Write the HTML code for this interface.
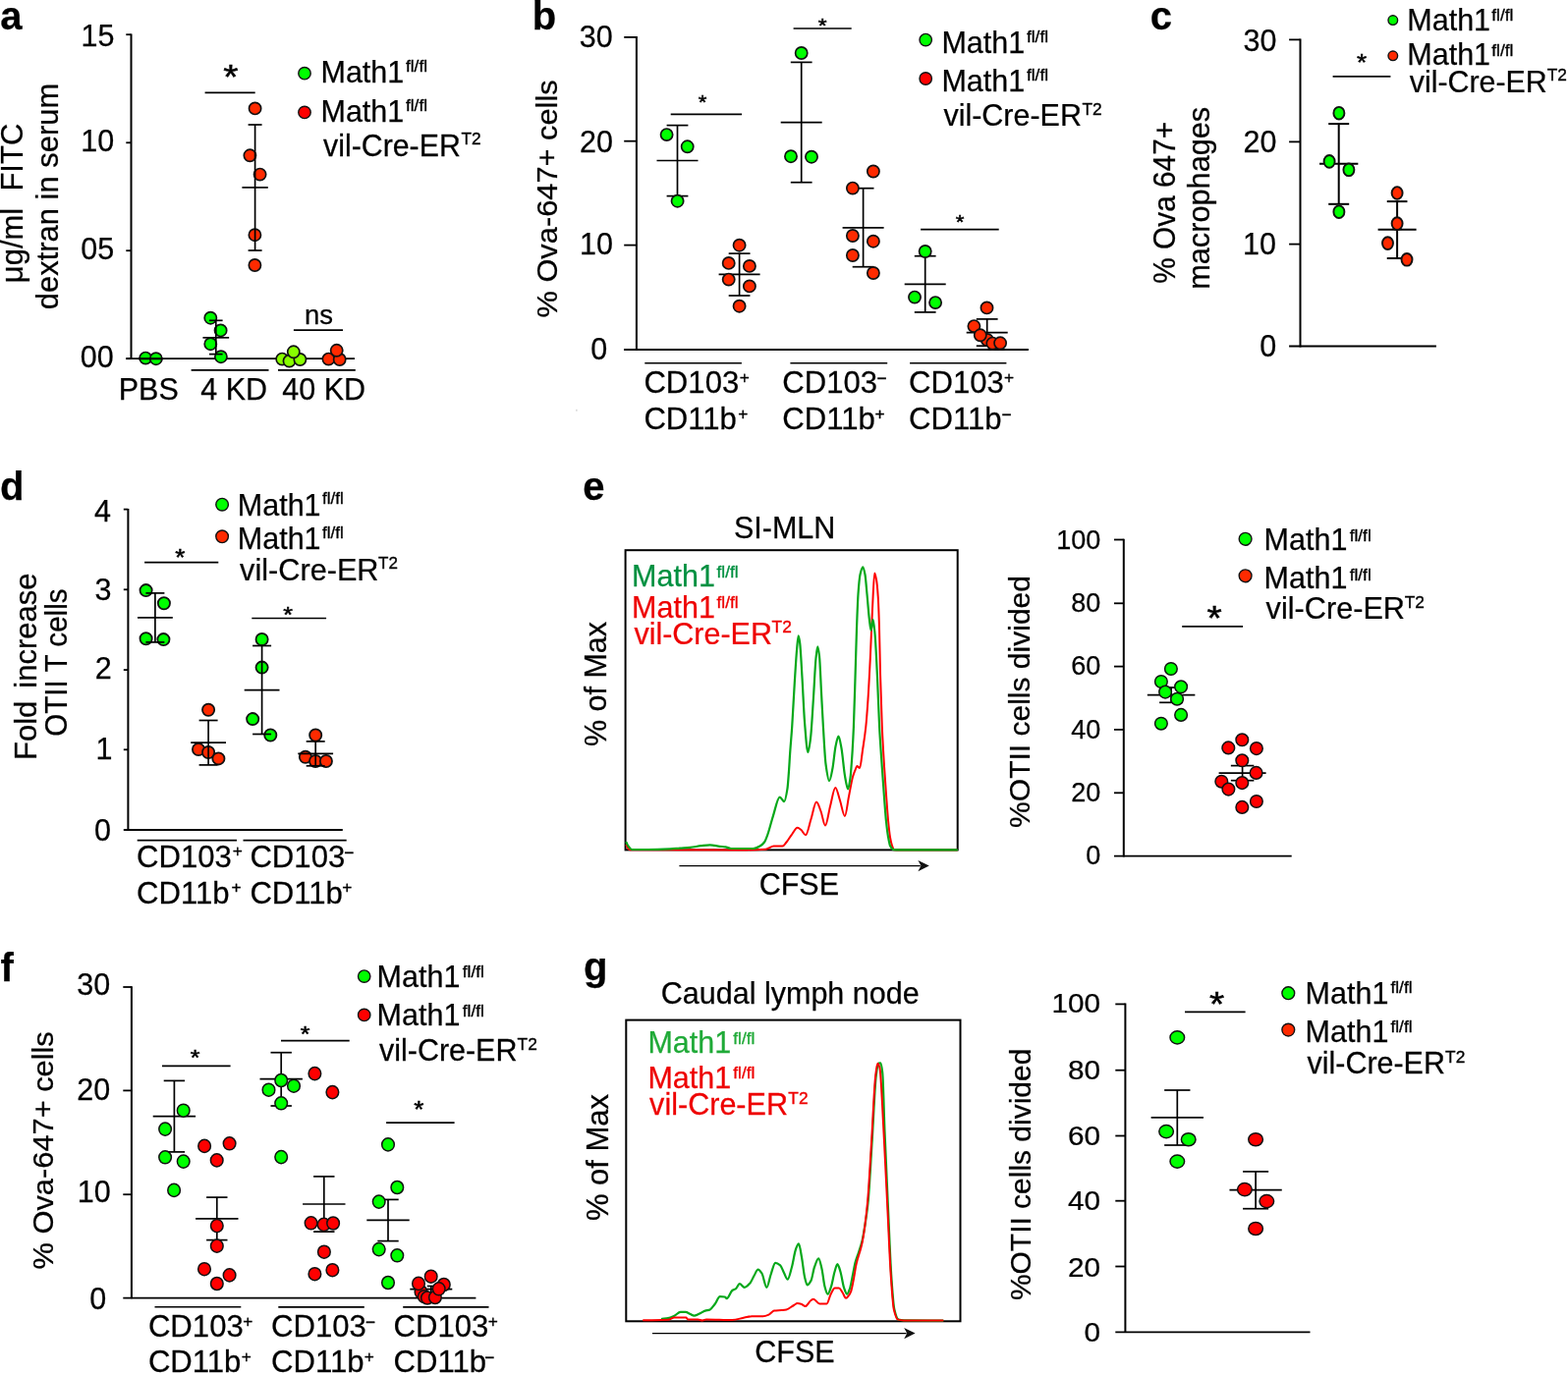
<!DOCTYPE html>
<html><head><meta charset="utf-8"><title>Figure</title>
<style>html,body{margin:0;padding:0;background:#fff;} svg{display:block;} text{font-family:"Liberation Sans",Arial,sans-serif;}</style>
</head><body>
<svg width="1596" height="1399" viewBox="0 0 1596 1399">
<rect width="1596" height="1399" fill="#fff"/>
<text transform="translate(0.24,29.80)" font-size="40.00" font-weight="bold" fill="#000" stroke="#000" stroke-width="0.25" xml:space="preserve">a</text>
<line x1="133.50" y1="34.40" x2="133.50" y2="366.00" stroke="#000" stroke-width="2.0"/>
<line x1="128.30" y1="35.20" x2="133.50" y2="35.20" stroke="#000" stroke-width="1.8"/>
<line x1="128.30" y1="145.30" x2="133.50" y2="145.30" stroke="#000" stroke-width="1.8"/>
<line x1="128.30" y1="255.20" x2="133.50" y2="255.20" stroke="#000" stroke-width="1.8"/>
<line x1="128.30" y1="365.20" x2="361.00" y2="365.20" stroke="#000" stroke-width="1.8"/>
<text transform="translate(82.56,47.04)" font-size="30.50" fill="#000" stroke="#000" stroke-width="0.25" xml:space="preserve">15</text>
<text transform="translate(82.27,153.69)" font-size="30.50" fill="#000" stroke="#000" stroke-width="0.25" xml:space="preserve">10</text>
<text transform="translate(82.37,263.79)" font-size="30.50" fill="#000" stroke="#000" stroke-width="0.25" xml:space="preserve">05</text>
<text transform="translate(81.87,373.99)" font-size="30.50" fill="#000" stroke="#000" stroke-width="0.25" xml:space="preserve">00</text>
<text transform="translate(23.20,288.22) rotate(-90)" font-size="31.00" fill="#000" stroke="#000" stroke-width="0.25" xml:space="preserve">μg/ml  FITC</text>
<text transform="translate(59.00,315.20) rotate(-90) scale(1.0144,1)" font-size="30.50" fill="#000" stroke="#000" stroke-width="0.25" xml:space="preserve">dextran in serum</text>
<circle cx="148.20" cy="364.60" r="6.1" fill="#00ff00" stroke="#111" stroke-width="1.7"/>
<circle cx="158.80" cy="365.20" r="6.1" fill="#00ff00" stroke="#111" stroke-width="1.7"/>
<line x1="141.00" y1="365.20" x2="166.00" y2="365.20" stroke="#000" stroke-width="2.2"/>
<circle cx="214.30" cy="323.70" r="6.1" fill="#00ff00" stroke="#111" stroke-width="1.7"/>
<circle cx="224.60" cy="336.40" r="6.1" fill="#00ff00" stroke="#111" stroke-width="1.7"/>
<circle cx="214.30" cy="350.20" r="6.1" fill="#00ff00" stroke="#111" stroke-width="1.7"/>
<circle cx="224.90" cy="363.20" r="6.1" fill="#00ff00" stroke="#111" stroke-width="1.7"/>
<line x1="219.80" y1="326.30" x2="219.80" y2="360.60" stroke="#000" stroke-width="1.7"/>
<line x1="213.00" y1="326.30" x2="226.60" y2="326.30" stroke="#000" stroke-width="1.7"/>
<line x1="213.00" y1="360.60" x2="226.60" y2="360.60" stroke="#000" stroke-width="1.7"/>
<line x1="206.45" y1="343.80" x2="233.15" y2="343.80" stroke="#000" stroke-width="1.7"/>
<circle cx="259.60" cy="110.40" r="6.1" fill="#ff2a00" stroke="#111" stroke-width="1.7"/>
<circle cx="254.40" cy="158.30" r="6.1" fill="#ff2a00" stroke="#111" stroke-width="1.7"/>
<circle cx="264.60" cy="177.60" r="6.1" fill="#ff2a00" stroke="#111" stroke-width="1.7"/>
<circle cx="259.40" cy="239.20" r="6.1" fill="#ff2a00" stroke="#111" stroke-width="1.7"/>
<circle cx="259.40" cy="270.00" r="6.1" fill="#ff2a00" stroke="#111" stroke-width="1.7"/>
<line x1="259.60" y1="127.00" x2="259.60" y2="255.00" stroke="#000" stroke-width="1.7"/>
<line x1="252.60" y1="127.00" x2="266.60" y2="127.00" stroke="#000" stroke-width="1.7"/>
<line x1="252.60" y1="255.00" x2="266.60" y2="255.00" stroke="#000" stroke-width="1.7"/>
<line x1="246.40" y1="190.90" x2="272.80" y2="190.90" stroke="#000" stroke-width="1.7"/>
<circle cx="287.20" cy="365.60" r="6.1" fill="#88ff00" stroke="#111" stroke-width="1.7"/>
<circle cx="294.50" cy="367.60" r="6.1" fill="#88ff00" stroke="#111" stroke-width="1.7"/>
<circle cx="305.40" cy="366.00" r="6.1" fill="#88ff00" stroke="#111" stroke-width="1.7"/>
<circle cx="298.80" cy="358.30" r="6.1" fill="#88ff00" stroke="#111" stroke-width="1.7"/>
<circle cx="334.40" cy="365.60" r="6.1" fill="#ff2a00" stroke="#111" stroke-width="1.7"/>
<circle cx="345.70" cy="366.00" r="6.1" fill="#ff2a00" stroke="#111" stroke-width="1.7"/>
<circle cx="342.70" cy="356.80" r="6.1" fill="#ff2a00" stroke="#111" stroke-width="1.7"/>
<line x1="128.30" y1="365.20" x2="133.50" y2="365.20" stroke="#000" stroke-width="1.8"/>
<text transform="translate(227.29,89.80) scale(1.1200,1)" font-size="34.92" fill="#000" stroke="#000" stroke-width="0.5" xml:space="preserve">*</text>
<line x1="208.60" y1="94.30" x2="259.70" y2="94.30" stroke="#000" stroke-width="1.7"/>
<text transform="translate(310.07,329.66)" font-size="27.50" fill="#000" stroke="#000" stroke-width="0.25" xml:space="preserve">ns</text>
<line x1="298.90" y1="336.10" x2="349.00" y2="336.10" stroke="#000" stroke-width="1.7"/>
<line x1="194.60" y1="376.90" x2="273.50" y2="376.90" stroke="#000" stroke-width="1.6"/>
<line x1="283.00" y1="376.90" x2="361.80" y2="376.90" stroke="#000" stroke-width="1.6"/>
<text transform="translate(120.70,406.80)" font-size="30.50" fill="#000" stroke="#000" stroke-width="0.25" xml:space="preserve">PBS</text>
<text transform="translate(204.20,406.80)" font-size="30.50" fill="#000" stroke="#000" stroke-width="0.25" xml:space="preserve">4 KD</text>
<text transform="translate(287.30,406.80)" font-size="30.50" fill="#000" stroke="#000" stroke-width="0.25" xml:space="preserve">40 KD</text>
<circle cx="310.00" cy="74.70" r="6.2" fill="#00ff00" stroke="#111" stroke-width="1.4"/>
<circle cx="310.00" cy="114.40" r="6.2" fill="#ff0000" stroke="#111" stroke-width="1.4"/>
<text transform="translate(326.50,84.40)" font-size="30.50" fill="#000" stroke="#000" stroke-width="0.25" xml:space="preserve">Math1</text>
<text transform="translate(412.96,73.34)" font-size="17.30" fill="#000" stroke="#000" stroke-width="0.35" xml:space="preserve">fl/fl</text>
<text transform="translate(326.50,124.10)" font-size="30.50" fill="#000" stroke="#000" stroke-width="0.25" xml:space="preserve">Math1</text>
<text transform="translate(412.96,113.04)" font-size="17.30" fill="#000" stroke="#000" stroke-width="0.35" xml:space="preserve">fl/fl</text>
<text transform="translate(329.01,158.60) scale(0.9947,1)" font-size="30.50" fill="#000" stroke="#000" stroke-width="0.25" xml:space="preserve">vil-Cre-ER</text>
<text transform="translate(469.52,147.38)" font-size="17.30" fill="#000" stroke="#000" stroke-width="0.35" xml:space="preserve">T2</text>
<text transform="translate(541.66,29.80)" font-size="40.00" font-weight="bold" fill="#000" stroke="#000" stroke-width="0.25" xml:space="preserve">b</text>
<line x1="647.90" y1="37.00" x2="647.90" y2="356.80" stroke="#000" stroke-width="2.0"/>
<line x1="635.20" y1="37.90" x2="647.90" y2="37.90" stroke="#000" stroke-width="1.8"/>
<line x1="635.20" y1="143.70" x2="647.90" y2="143.70" stroke="#000" stroke-width="1.8"/>
<line x1="635.20" y1="249.60" x2="647.90" y2="249.60" stroke="#000" stroke-width="1.8"/>
<line x1="635.00" y1="356.00" x2="1046.90" y2="356.00" stroke="#000" stroke-width="1.8"/>
<text transform="translate(589.87,47.64)" font-size="30.50" fill="#000" stroke="#000" stroke-width="0.25" xml:space="preserve">30</text>
<text transform="translate(589.97,155.09)" font-size="30.50" fill="#000" stroke="#000" stroke-width="0.25" xml:space="preserve">20</text>
<text transform="translate(589.97,258.59)" font-size="30.50" fill="#000" stroke="#000" stroke-width="0.25" xml:space="preserve">10</text>
<text transform="translate(601.33,365.79)" font-size="30.50" fill="#000" stroke="#000" stroke-width="0.25" xml:space="preserve">0</text>
<text transform="translate(567.00,323.51) rotate(-90) scale(1.0266,1)" font-size="30.00" fill="#000" stroke="#000" stroke-width="0.25" xml:space="preserve">% Ova-647+ cells</text>
<line x1="689.50" y1="127.60" x2="689.50" y2="199.60" stroke="#000" stroke-width="1.7"/>
<line x1="678.60" y1="127.60" x2="700.40" y2="127.60" stroke="#000" stroke-width="1.7"/>
<line x1="678.60" y1="199.60" x2="700.40" y2="199.60" stroke="#000" stroke-width="1.7"/>
<line x1="668.50" y1="163.50" x2="710.50" y2="163.50" stroke="#000" stroke-width="1.7"/>
<circle cx="678.60" cy="137.10" r="6.1" fill="#00ff00" stroke="#111" stroke-width="1.7"/>
<circle cx="699.70" cy="149.30" r="6.1" fill="#00ff00" stroke="#111" stroke-width="1.7"/>
<circle cx="689.60" cy="204.70" r="6.1" fill="#00ff00" stroke="#111" stroke-width="1.7"/>
<line x1="752.60" y1="258.10" x2="752.60" y2="301.00" stroke="#000" stroke-width="1.7"/>
<line x1="741.70" y1="258.10" x2="763.50" y2="258.10" stroke="#000" stroke-width="1.7"/>
<line x1="741.70" y1="301.00" x2="763.50" y2="301.00" stroke="#000" stroke-width="1.7"/>
<line x1="731.60" y1="279.40" x2="773.60" y2="279.40" stroke="#000" stroke-width="1.7"/>
<circle cx="752.60" cy="249.70" r="6.1" fill="#ff2a00" stroke="#111" stroke-width="1.7"/>
<circle cx="741.70" cy="267.90" r="6.1" fill="#ff2a00" stroke="#111" stroke-width="1.7"/>
<circle cx="762.90" cy="270.90" r="6.1" fill="#ff2a00" stroke="#111" stroke-width="1.7"/>
<circle cx="741.70" cy="284.60" r="6.1" fill="#ff2a00" stroke="#111" stroke-width="1.7"/>
<circle cx="762.90" cy="291.40" r="6.1" fill="#ff2a00" stroke="#111" stroke-width="1.7"/>
<circle cx="752.60" cy="311.70" r="6.1" fill="#ff2a00" stroke="#111" stroke-width="1.7"/>
<line x1="815.70" y1="63.40" x2="815.70" y2="185.70" stroke="#000" stroke-width="1.7"/>
<line x1="804.80" y1="63.40" x2="826.60" y2="63.40" stroke="#000" stroke-width="1.7"/>
<line x1="804.80" y1="185.70" x2="826.60" y2="185.70" stroke="#000" stroke-width="1.7"/>
<line x1="794.70" y1="124.60" x2="836.70" y2="124.60" stroke="#000" stroke-width="1.7"/>
<circle cx="815.70" cy="54.00" r="6.1" fill="#00ff00" stroke="#111" stroke-width="1.7"/>
<circle cx="805.00" cy="159.20" r="6.1" fill="#00ff00" stroke="#111" stroke-width="1.7"/>
<circle cx="826.00" cy="159.70" r="6.1" fill="#00ff00" stroke="#111" stroke-width="1.7"/>
<line x1="878.60" y1="191.70" x2="878.60" y2="271.70" stroke="#000" stroke-width="1.7"/>
<line x1="867.70" y1="191.70" x2="889.50" y2="191.70" stroke="#000" stroke-width="1.7"/>
<line x1="867.70" y1="271.70" x2="889.50" y2="271.70" stroke="#000" stroke-width="1.7"/>
<line x1="857.60" y1="231.90" x2="899.60" y2="231.90" stroke="#000" stroke-width="1.7"/>
<circle cx="888.90" cy="174.50" r="6.1" fill="#ff2a00" stroke="#111" stroke-width="1.7"/>
<circle cx="867.90" cy="191.60" r="6.1" fill="#ff2a00" stroke="#111" stroke-width="1.7"/>
<circle cx="867.90" cy="240.00" r="6.1" fill="#ff2a00" stroke="#111" stroke-width="1.7"/>
<circle cx="888.90" cy="245.70" r="6.1" fill="#ff2a00" stroke="#111" stroke-width="1.7"/>
<circle cx="867.90" cy="260.00" r="6.1" fill="#ff2a00" stroke="#111" stroke-width="1.7"/>
<circle cx="888.90" cy="278.00" r="6.1" fill="#ff2a00" stroke="#111" stroke-width="1.7"/>
<line x1="941.70" y1="260.70" x2="941.70" y2="317.90" stroke="#000" stroke-width="1.7"/>
<line x1="930.80" y1="260.70" x2="952.60" y2="260.70" stroke="#000" stroke-width="1.7"/>
<line x1="930.80" y1="317.90" x2="952.60" y2="317.90" stroke="#000" stroke-width="1.7"/>
<line x1="920.70" y1="289.30" x2="962.70" y2="289.30" stroke="#000" stroke-width="1.7"/>
<circle cx="941.70" cy="256.00" r="6.1" fill="#00ff00" stroke="#111" stroke-width="1.7"/>
<circle cx="931.00" cy="302.60" r="6.1" fill="#00ff00" stroke="#111" stroke-width="1.7"/>
<circle cx="952.10" cy="308.10" r="6.1" fill="#00ff00" stroke="#111" stroke-width="1.7"/>
<line x1="1004.70" y1="324.90" x2="1004.70" y2="352.20" stroke="#000" stroke-width="1.7"/>
<line x1="993.80" y1="324.90" x2="1015.60" y2="324.90" stroke="#000" stroke-width="1.7"/>
<line x1="993.80" y1="352.20" x2="1015.60" y2="352.20" stroke="#000" stroke-width="1.7"/>
<line x1="983.70" y1="338.60" x2="1025.70" y2="338.60" stroke="#000" stroke-width="1.7"/>
<circle cx="1004.50" cy="313.40" r="6.1" fill="#ff2a00" stroke="#111" stroke-width="1.7"/>
<circle cx="1004.80" cy="346.00" r="6.1" fill="#ff2a00" stroke="#111" stroke-width="1.7"/>
<circle cx="991.40" cy="332.10" r="6.1" fill="#ff2a00" stroke="#111" stroke-width="1.7"/>
<circle cx="997.80" cy="341.30" r="6.1" fill="#ff2a00" stroke="#111" stroke-width="1.7"/>
<circle cx="1010.30" cy="349.60" r="6.1" fill="#ff2a00" stroke="#111" stroke-width="1.7"/>
<circle cx="1018.10" cy="349.30" r="6.1" fill="#ff2a00" stroke="#111" stroke-width="1.7"/>
<line x1="682.70" y1="116.40" x2="755.10" y2="116.40" stroke="#000" stroke-width="1.7"/>
<text transform="translate(710.67,111.49) scale(1.1200,1)" font-size="19.88" fill="#000" stroke="#000" stroke-width="0.5" xml:space="preserve">*</text>
<line x1="807.60" y1="29.00" x2="866.70" y2="29.00" stroke="#000" stroke-width="1.7"/>
<text transform="translate(832.86,32.84) scale(1.1200,1)" font-size="20.37" fill="#000" stroke="#000" stroke-width="0.5" xml:space="preserve">*</text>
<line x1="937.10" y1="233.60" x2="1016.70" y2="233.60" stroke="#000" stroke-width="1.7"/>
<text transform="translate(972.77,232.99) scale(1.1200,1)" font-size="19.88" fill="#000" stroke="#000" stroke-width="0.5" xml:space="preserve">*</text>
<line x1="656.30" y1="369.80" x2="754.90" y2="369.80" stroke="#000" stroke-width="1.6"/>
<line x1="804.40" y1="369.80" x2="903.20" y2="369.80" stroke="#000" stroke-width="1.6"/>
<line x1="926.10" y1="369.80" x2="1024.40" y2="369.80" stroke="#000" stroke-width="1.6"/>
<text transform="translate(655.41,399.60) scale(1.0200,1)" font-size="30.50" fill="#000" stroke="#000" stroke-width="0.25" xml:space="preserve">CD103</text>
<text transform="translate(752.85,389.58)" font-size="17.30" fill="#000" stroke="#000" stroke-width="0.35" xml:space="preserve">+</text>
<text transform="translate(655.41,436.80) scale(1.0200,1)" font-size="30.50" fill="#000" stroke="#000" stroke-width="0.25" xml:space="preserve">CD11b</text>
<text transform="translate(751.15,426.78)" font-size="17.30" fill="#000" stroke="#000" stroke-width="0.35" xml:space="preserve">+</text>
<text transform="translate(796.31,399.60) scale(1.0200,1)" font-size="30.50" fill="#000" stroke="#000" stroke-width="0.25" xml:space="preserve">CD103</text>
<text transform="translate(892.55,390.55)" font-size="17.30" fill="#000" stroke="#000" stroke-width="0.35" xml:space="preserve">−</text>
<text transform="translate(796.31,436.80) scale(1.0200,1)" font-size="30.50" fill="#000" stroke="#000" stroke-width="0.25" xml:space="preserve">CD11b</text>
<text transform="translate(890.55,426.78)" font-size="17.30" fill="#000" stroke="#000" stroke-width="0.35" xml:space="preserve">+</text>
<text transform="translate(925.11,399.60) scale(1.0200,1)" font-size="30.50" fill="#000" stroke="#000" stroke-width="0.25" xml:space="preserve">CD103</text>
<text transform="translate(1021.95,389.58)" font-size="17.30" fill="#000" stroke="#000" stroke-width="0.35" xml:space="preserve">+</text>
<text transform="translate(925.11,436.60) scale(1.0200,1)" font-size="30.50" fill="#000" stroke="#000" stroke-width="0.25" xml:space="preserve">CD11b</text>
<text transform="translate(1019.45,427.55)" font-size="17.30" fill="#000" stroke="#000" stroke-width="0.35" xml:space="preserve">−</text>
<circle cx="942.20" cy="40.60" r="6.2" fill="#00ff00" stroke="#111" stroke-width="1.4"/>
<circle cx="942.20" cy="80.00" r="6.2" fill="#ff0000" stroke="#111" stroke-width="1.4"/>
<text transform="translate(958.40,54.10)" font-size="30.50" fill="#000" stroke="#000" stroke-width="0.25" xml:space="preserve">Math1</text>
<text transform="translate(1044.96,42.94)" font-size="17.30" fill="#000" stroke="#000" stroke-width="0.35" xml:space="preserve">fl/fl</text>
<text transform="translate(958.40,93.40)" font-size="30.50" fill="#000" stroke="#000" stroke-width="0.25" xml:space="preserve">Math1</text>
<text transform="translate(1044.96,82.24)" font-size="17.30" fill="#000" stroke="#000" stroke-width="0.35" xml:space="preserve">fl/fl</text>
<text transform="translate(960.41,128.00) scale(0.9997,1)" font-size="30.50" fill="#000" stroke="#000" stroke-width="0.25" xml:space="preserve">vil-Cre-ER</text>
<text transform="translate(1101.42,116.98)" font-size="17.30" fill="#000" stroke="#000" stroke-width="0.35" xml:space="preserve">T2</text>
<text transform="translate(1170.74,30.00)" font-size="40.00" font-weight="bold" fill="#000" stroke="#000" stroke-width="0.25" xml:space="preserve">c</text>
<line x1="1323.50" y1="39.50" x2="1323.50" y2="353.40" stroke="#000" stroke-width="2.0"/>
<line x1="1312.10" y1="40.40" x2="1323.50" y2="40.40" stroke="#000" stroke-width="1.8"/>
<line x1="1312.10" y1="144.40" x2="1323.50" y2="144.40" stroke="#000" stroke-width="1.8"/>
<line x1="1312.10" y1="248.60" x2="1323.50" y2="248.60" stroke="#000" stroke-width="1.8"/>
<line x1="1312.10" y1="352.50" x2="1461.90" y2="352.50" stroke="#000" stroke-width="1.8"/>
<text transform="translate(1265.57,52.29)" font-size="30.50" fill="#000" stroke="#000" stroke-width="0.25" xml:space="preserve">30</text>
<text transform="translate(1265.57,154.79)" font-size="30.50" fill="#000" stroke="#000" stroke-width="0.25" xml:space="preserve">20</text>
<text transform="translate(1265.07,258.69)" font-size="30.50" fill="#000" stroke="#000" stroke-width="0.25" xml:space="preserve">10</text>
<text transform="translate(1282.13,362.89)" font-size="30.50" fill="#000" stroke="#000" stroke-width="0.25" xml:space="preserve">0</text>
<text transform="translate(1195.60,288.67) rotate(-90) scale(0.9771,1)" font-size="30.50" fill="#000" stroke="#000" stroke-width="0.25" xml:space="preserve">% Ova 647+</text>
<text transform="translate(1230.70,294.83) rotate(-90) scale(1.0072,1)" font-size="30.50" fill="#000" stroke="#000" stroke-width="0.25" xml:space="preserve">macrophages</text>
<line x1="1362.70" y1="126.10" x2="1362.70" y2="207.80" stroke="#000" stroke-width="2.0"/>
<line x1="1352.20" y1="126.10" x2="1373.20" y2="126.10" stroke="#000" stroke-width="2.0"/>
<line x1="1352.20" y1="207.80" x2="1373.20" y2="207.80" stroke="#000" stroke-width="2.0"/>
<line x1="1343.05" y1="166.80" x2="1382.35" y2="166.80" stroke="#000" stroke-width="2.0"/>
<line x1="1422.10" y1="205.10" x2="1422.10" y2="263.00" stroke="#000" stroke-width="2.0"/>
<line x1="1411.75" y1="205.10" x2="1432.45" y2="205.10" stroke="#000" stroke-width="2.0"/>
<line x1="1411.75" y1="263.00" x2="1432.45" y2="263.00" stroke="#000" stroke-width="2.0"/>
<line x1="1402.60" y1="233.70" x2="1441.60" y2="233.70" stroke="#000" stroke-width="2.0"/>
<ellipse cx="1362.90" cy="115.20" rx="5.5" ry="6.35" fill="#00ff00" stroke="#111" stroke-width="1.9"/>
<ellipse cx="1353.10" cy="164.40" rx="5.5" ry="6.35" fill="#00ff00" stroke="#111" stroke-width="1.9"/>
<ellipse cx="1372.90" cy="172.80" rx="5.5" ry="6.35" fill="#00ff00" stroke="#111" stroke-width="1.9"/>
<ellipse cx="1362.90" cy="215.70" rx="5.5" ry="6.35" fill="#00ff00" stroke="#111" stroke-width="1.9"/>
<ellipse cx="1422.10" cy="196.50" rx="5.5" ry="6.35" fill="#ff2a00" stroke="#111" stroke-width="1.9"/>
<ellipse cx="1422.10" cy="227.60" rx="5.5" ry="6.35" fill="#ff2a00" stroke="#111" stroke-width="1.9"/>
<ellipse cx="1412.50" cy="247.60" rx="5.5" ry="6.35" fill="#ff2a00" stroke="#111" stroke-width="1.9"/>
<ellipse cx="1432.00" cy="264.30" rx="5.5" ry="6.35" fill="#ff2a00" stroke="#111" stroke-width="1.9"/>
<line x1="1356.60" y1="77.90" x2="1415.40" y2="77.90" stroke="#000" stroke-width="1.7"/>
<text transform="translate(1381.03,72.43) scale(1.1200,1)" font-size="23.28" fill="#000" stroke="#000" stroke-width="0.5" xml:space="preserve">*</text>
<circle cx="1417.80" cy="20.60" r="4.8" fill="#00ff00" stroke="#111" stroke-width="1.4"/>
<circle cx="1417.80" cy="56.80" r="4.8" fill="#ff2a00" stroke="#111" stroke-width="1.4"/>
<text transform="translate(1432.30,30.70)" font-size="30.50" fill="#000" stroke="#000" stroke-width="0.25" xml:space="preserve">Math1</text>
<text transform="translate(1518.26,21.14)" font-size="17.30" fill="#000" stroke="#000" stroke-width="0.35" xml:space="preserve">fl/fl</text>
<text transform="translate(1432.30,66.30)" font-size="30.50" fill="#000" stroke="#000" stroke-width="0.25" xml:space="preserve">Math1</text>
<text transform="translate(1518.26,56.94)" font-size="17.30" fill="#000" stroke="#000" stroke-width="0.35" xml:space="preserve">fl/fl</text>
<text transform="translate(1434.81,93.60) scale(0.9954,1)" font-size="30.50" fill="#000" stroke="#000" stroke-width="0.25" xml:space="preserve">vil-Cre-ER</text>
<text transform="translate(1574.72,82.48)" font-size="17.30" fill="#000" stroke="#000" stroke-width="0.35" xml:space="preserve">T2</text>
<text transform="translate(0.06,509.00)" font-size="40.00" font-weight="bold" fill="#000" stroke="#000" stroke-width="0.25" xml:space="preserve">d</text>
<line x1="130.40" y1="518.00" x2="130.40" y2="845.80" stroke="#000" stroke-width="2.0"/>
<line x1="125.80" y1="518.60" x2="130.40" y2="518.60" stroke="#000" stroke-width="1.8"/>
<line x1="125.80" y1="600.30" x2="130.40" y2="600.30" stroke="#000" stroke-width="1.8"/>
<line x1="125.80" y1="682.10" x2="130.40" y2="682.10" stroke="#000" stroke-width="1.8"/>
<line x1="125.80" y1="763.30" x2="130.40" y2="763.30" stroke="#000" stroke-width="1.8"/>
<line x1="125.80" y1="845.00" x2="348.80" y2="845.00" stroke="#000" stroke-width="1.8"/>
<text transform="translate(96.03,531.19)" font-size="30.50" fill="#000" stroke="#000" stroke-width="0.25" xml:space="preserve">4</text>
<text transform="translate(96.38,611.19)" font-size="30.50" fill="#000" stroke="#000" stroke-width="0.25" xml:space="preserve">3</text>
<text transform="translate(96.67,691.34)" font-size="30.50" fill="#000" stroke="#000" stroke-width="0.25" xml:space="preserve">2</text>
<text transform="translate(97.54,773.39)" font-size="30.50" fill="#000" stroke="#000" stroke-width="0.25" xml:space="preserve">1</text>
<text transform="translate(96.03,856.09)" font-size="30.50" fill="#000" stroke="#000" stroke-width="0.25" xml:space="preserve">0</text>
<text transform="translate(36.90,773.94) rotate(-90)" font-size="31.00" fill="#000" stroke="#000" stroke-width="0.25" xml:space="preserve">Fold</text>
<text transform="translate(36.90,700.68) rotate(-90)" font-size="31.00" fill="#000" stroke="#000" stroke-width="0.25" xml:space="preserve">increase</text>
<text transform="translate(67.80,749.79) rotate(-90) scale(0.9720,1)" font-size="30.50" fill="#000" stroke="#000" stroke-width="0.25" xml:space="preserve">OTII T cells</text>
<circle cx="148.60" cy="601.10" r="6.1" fill="#00ff00" stroke="#111" stroke-width="1.8"/>
<circle cx="166.90" cy="614.30" r="6.1" fill="#00ff00" stroke="#111" stroke-width="1.8"/>
<circle cx="148.60" cy="650.30" r="6.1" fill="#00ff00" stroke="#111" stroke-width="1.8"/>
<circle cx="166.40" cy="651.10" r="6.1" fill="#00ff00" stroke="#111" stroke-width="1.8"/>
<line x1="157.90" y1="603.90" x2="157.90" y2="653.90" stroke="#000" stroke-width="1.7"/>
<line x1="148.40" y1="603.90" x2="167.40" y2="603.90" stroke="#000" stroke-width="1.7"/>
<line x1="148.40" y1="653.90" x2="167.40" y2="653.90" stroke="#000" stroke-width="1.7"/>
<line x1="140.00" y1="628.90" x2="175.80" y2="628.90" stroke="#000" stroke-width="1.7"/>
<circle cx="212.10" cy="722.80" r="6.1" fill="#ff2a00" stroke="#111" stroke-width="1.8"/>
<circle cx="202.00" cy="763.00" r="6.1" fill="#ff2a00" stroke="#111" stroke-width="1.8"/>
<circle cx="212.10" cy="766.00" r="6.1" fill="#ff2a00" stroke="#111" stroke-width="1.8"/>
<circle cx="222.40" cy="772.40" r="6.1" fill="#ff2a00" stroke="#111" stroke-width="1.8"/>
<line x1="212.10" y1="733.50" x2="212.10" y2="778.90" stroke="#000" stroke-width="1.7"/>
<line x1="202.60" y1="733.50" x2="221.60" y2="733.50" stroke="#000" stroke-width="1.7"/>
<line x1="202.60" y1="778.90" x2="221.60" y2="778.90" stroke="#000" stroke-width="1.7"/>
<line x1="194.20" y1="756.10" x2="230.00" y2="756.10" stroke="#000" stroke-width="1.7"/>
<circle cx="266.60" cy="651.00" r="6.1" fill="#00ff00" stroke="#111" stroke-width="1.8"/>
<circle cx="266.60" cy="679.60" r="6.1" fill="#00ff00" stroke="#111" stroke-width="1.8"/>
<circle cx="257.20" cy="732.10" r="6.1" fill="#00ff00" stroke="#111" stroke-width="1.8"/>
<circle cx="275.30" cy="748.50" r="6.1" fill="#00ff00" stroke="#111" stroke-width="1.8"/>
<line x1="266.60" y1="657.50" x2="266.60" y2="747.50" stroke="#000" stroke-width="1.7"/>
<line x1="257.10" y1="657.50" x2="276.10" y2="657.50" stroke="#000" stroke-width="1.7"/>
<line x1="257.10" y1="747.50" x2="276.10" y2="747.50" stroke="#000" stroke-width="1.7"/>
<line x1="248.70" y1="702.70" x2="284.50" y2="702.70" stroke="#000" stroke-width="1.7"/>
<circle cx="321.20" cy="748.50" r="6.1" fill="#ff2a00" stroke="#111" stroke-width="1.8"/>
<circle cx="310.90" cy="770.70" r="6.1" fill="#ff2a00" stroke="#111" stroke-width="1.8"/>
<circle cx="321.10" cy="775.00" r="6.1" fill="#ff2a00" stroke="#111" stroke-width="1.8"/>
<circle cx="331.90" cy="775.00" r="6.1" fill="#ff2a00" stroke="#111" stroke-width="1.8"/>
<line x1="321.20" y1="754.90" x2="321.20" y2="779.80" stroke="#000" stroke-width="1.7"/>
<line x1="311.70" y1="754.90" x2="330.70" y2="754.90" stroke="#000" stroke-width="1.7"/>
<line x1="311.70" y1="779.80" x2="330.70" y2="779.80" stroke="#000" stroke-width="1.7"/>
<line x1="303.30" y1="767.40" x2="339.10" y2="767.40" stroke="#000" stroke-width="1.7"/>
<line x1="147.10" y1="572.60" x2="222.30" y2="572.60" stroke="#000" stroke-width="1.7"/>
<text transform="translate(178.13,576.23) scale(1.1200,1)" font-size="23.28" fill="#000" stroke="#000" stroke-width="0.5" xml:space="preserve">*</text>
<line x1="256.30" y1="629.50" x2="332.10" y2="629.50" stroke="#000" stroke-width="1.7"/>
<text transform="translate(288.24,633.13) scale(1.1200,1)" font-size="22.31" fill="#000" stroke="#000" stroke-width="0.5" xml:space="preserve">*</text>
<line x1="139.70" y1="855.60" x2="241.00" y2="855.60" stroke="#000" stroke-width="1.6"/>
<line x1="247.50" y1="855.60" x2="352.70" y2="855.60" stroke="#000" stroke-width="1.6"/>
<text transform="translate(139.01,882.50) scale(1.0200,1)" font-size="30.50" fill="#000" stroke="#000" stroke-width="0.25" xml:space="preserve">CD103</text>
<text transform="translate(236.75,872.28)" font-size="17.30" fill="#000" stroke="#000" stroke-width="0.35" xml:space="preserve">+</text>
<text transform="translate(139.01,919.70) scale(1.0200,1)" font-size="30.50" fill="#000" stroke="#000" stroke-width="0.25" xml:space="preserve">CD11b</text>
<text transform="translate(235.55,909.48)" font-size="17.30" fill="#000" stroke="#000" stroke-width="0.35" xml:space="preserve">+</text>
<text transform="translate(254.41,882.70) scale(1.0200,1)" font-size="30.50" fill="#000" stroke="#000" stroke-width="0.25" xml:space="preserve">CD103</text>
<text transform="translate(350.15,873.65)" font-size="17.30" fill="#000" stroke="#000" stroke-width="0.35" xml:space="preserve">−</text>
<text transform="translate(254.41,919.80) scale(1.0200,1)" font-size="30.50" fill="#000" stroke="#000" stroke-width="0.25" xml:space="preserve">CD11b</text>
<text transform="translate(348.15,909.38)" font-size="17.30" fill="#000" stroke="#000" stroke-width="0.35" xml:space="preserve">+</text>
<circle cx="226.10" cy="513.70" r="6.3" fill="#00ff00" stroke="#111" stroke-width="1.4"/>
<circle cx="226.10" cy="546.30" r="6.3" fill="#ff2a00" stroke="#111" stroke-width="1.4"/>
<text transform="translate(241.80,524.60)" font-size="30.50" fill="#000" stroke="#000" stroke-width="0.25" xml:space="preserve">Math1</text>
<text transform="translate(328.06,513.33)" font-size="17.00" fill="#000" stroke="#000" stroke-width="0.35" xml:space="preserve">fl/fl</text>
<text transform="translate(241.80,559.20)" font-size="30.50" fill="#000" stroke="#000" stroke-width="0.25" xml:space="preserve">Math1</text>
<text transform="translate(328.06,547.93)" font-size="17.00" fill="#000" stroke="#000" stroke-width="0.35" xml:space="preserve">fl/fl</text>
<text transform="translate(244.11,590.80) scale(1.0055,1)" font-size="30.50" fill="#000" stroke="#000" stroke-width="0.25" xml:space="preserve">vil-Cre-ER</text>
<text transform="translate(385.03,579.47)" font-size="17.00" fill="#000" stroke="#000" stroke-width="0.35" xml:space="preserve">T2</text>
<text transform="translate(593.34,509.30)" font-size="40.00" font-weight="bold" fill="#000" stroke="#000" stroke-width="0.25" xml:space="preserve">e</text>
<text transform="translate(746.93,548.40)" font-size="30.50" fill="#000" stroke="#000" stroke-width="0.25" xml:space="preserve">SI-MLN</text>
<rect x="636.6" y="560.2" width="338.1" height="305.2" fill="none" stroke="#000" stroke-width="2"/>
<path d="M637.60,860.50 C638.40,861.83 639.20,864.12 640.00,864.50 C641.00,864.97 642.00,865.30 643.00,865.30 C682.00,865.40 721.00,865.40 760.00,865.40 C766.43,865.40 772.87,865.18 779.30,864.70 C782.07,864.49 784.83,861.60 787.60,861.60 C790.57,861.60 793.53,861.60 796.50,861.60 C797.83,861.60 799.17,859.09 800.50,857.50 C802.17,855.52 803.83,852.51 805.50,850.30 C807.57,847.56 809.63,842.70 811.70,842.70 C812.97,842.70 814.23,844.00 815.50,845.00 C817.00,846.19 818.50,850.30 820.00,850.30 C821.83,850.30 823.67,839.63 825.50,834.00 C827.33,828.37 829.17,816.50 831.00,816.50 C832.50,816.50 834.00,822.16 835.50,826.00 C837.00,829.84 838.50,840.60 840.00,840.60 C841.67,840.60 843.33,827.24 845.00,821.00 C846.77,814.38 848.53,802.00 850.30,802.00 C851.87,802.00 853.43,810.31 855.00,815.00 C856.63,819.89 858.27,831.00 859.90,831.00 C861.27,831.00 862.63,817.75 864.00,811.00 C865.33,804.42 866.67,795.64 868.00,791.00 C868.83,788.10 869.67,786.17 870.50,784.10 C871.10,782.61 871.70,780.00 872.30,780.00 C873.23,780.00 874.17,782.00 875.10,782.00 C876.07,782.00 877.03,770.46 878.00,764.00 C879.10,756.65 880.20,750.37 881.30,740.00 C882.03,733.09 882.77,722.99 883.50,712.00 C884.27,700.52 885.03,685.54 885.80,670.00 C886.53,655.14 887.27,634.04 888.00,620.00 C888.73,605.96 889.47,583.60 890.20,583.60 C890.80,583.60 891.40,586.83 892.00,590.00 C892.57,593.00 893.13,598.86 893.70,607.20 C894.13,613.58 894.57,625.72 895.00,640.00 C895.33,650.98 895.67,673.45 896.00,685.80 C896.60,708.04 897.20,726.28 897.80,740.00 C898.53,756.76 899.27,768.21 900.00,780.00 C900.67,790.72 901.33,799.76 902.00,808.90 C902.67,818.04 903.33,828.09 904.00,835.00 C904.70,842.26 905.40,849.07 906.10,853.00 C906.73,856.56 907.37,859.32 908.00,861.00 C908.73,862.94 909.47,865.14 910.20,865.20 C912.13,865.35 914.07,865.40 916.00,865.40 C935.33,865.40 954.67,865.40 974.00,865.40" stroke="#ff0000" stroke-width="2.0" fill="none" stroke-linejoin="round" stroke-linecap="round"/>
<path d="M637.60,857.80 C638.23,859.03 638.87,860.65 639.50,861.50 C640.70,863.11 641.90,865.00 643.10,865.00 C648.73,865.00 654.37,865.00 660.00,865.00 C667.33,865.00 674.67,864.72 682.00,864.40 C685.33,864.26 688.67,863.85 692.00,863.60 C695.43,863.35 698.87,863.22 702.30,862.90 C706.07,862.55 709.83,861.65 713.60,861.20 C716.60,860.84 719.60,860.30 722.60,860.30 C726.00,860.30 729.40,861.43 732.80,861.80 C734.67,862.00 736.53,862.04 738.40,862.30 C740.27,862.56 742.13,864.00 744.00,864.00 C751.53,864.00 759.07,864.00 766.60,864.00 C769.00,864.00 771.40,862.62 773.80,861.30 C775.20,860.53 776.60,859.35 778.00,857.50 C779.10,856.05 780.20,852.87 781.30,849.90 C783.17,844.85 785.03,836.58 786.90,830.80 C789.17,823.78 791.43,811.60 793.70,811.60 C795.20,811.60 796.70,816.10 798.20,816.10 C799.27,816.10 800.33,810.05 801.40,803.40 C801.93,800.07 802.47,792.17 803.00,785.00 C803.37,780.07 803.73,772.92 804.10,767.60 C804.80,757.45 805.50,750.41 806.20,740.00 C807.07,727.11 807.93,708.70 808.80,695.00 C809.60,682.35 810.40,668.40 811.20,660.00 C811.70,654.75 812.20,647.30 812.70,647.30 C813.20,647.30 813.70,651.29 814.20,655.00 C814.97,660.69 815.73,677.37 816.50,690.00 C817.33,703.73 818.17,724.74 819.00,735.00 C820.13,748.95 821.27,766.00 822.40,766.00 C823.27,766.00 824.13,758.67 825.00,752.00 C826.00,744.30 827.00,724.96 828.00,710.00 C828.83,697.53 829.67,677.53 830.50,670.00 C831.10,664.58 831.70,658.30 832.30,658.30 C832.87,658.30 833.43,663.13 834.00,668.00 C834.67,673.73 835.33,692.69 836.00,705.00 C836.63,716.69 837.27,729.62 837.90,740.00 C838.77,754.21 839.63,771.61 840.50,778.00 C841.70,786.85 842.90,795.10 844.10,795.10 C845.23,795.10 846.37,787.76 847.50,782.00 C848.50,776.92 849.50,764.71 850.50,760.00 C851.50,755.29 852.50,749.60 853.50,749.60 C854.50,749.60 855.50,756.59 856.50,762.00 C857.67,768.31 858.83,783.49 860.00,790.00 C861.03,795.76 862.07,803.40 863.10,803.40 C863.90,803.40 864.70,797.59 865.50,792.00 C866.10,787.81 866.70,778.92 867.30,770.00 C867.83,762.07 868.37,752.50 868.90,740.00 C869.43,727.50 869.97,707.21 870.50,690.00 C871.00,673.87 871.50,653.73 872.00,640.00 C872.50,626.27 873.00,612.14 873.50,605.00 C874.17,595.49 874.83,587.97 875.50,585.00 C876.43,580.84 877.37,577.30 878.30,577.30 C879.03,577.30 879.77,581.17 880.50,585.00 C881.17,588.48 881.83,598.06 882.50,605.00 C883.27,612.98 884.03,623.79 884.80,630.00 C885.40,634.86 886.00,641.80 886.60,641.80 C887.27,641.80 887.93,630.80 888.60,630.80 C889.23,630.80 889.87,638.43 890.50,645.00 C891.33,653.64 892.17,672.85 893.00,690.00 C893.70,704.41 894.40,726.82 895.10,740.00 C896.00,756.94 896.90,768.29 897.80,781.40 C898.53,792.08 899.27,802.46 900.00,812.00 C900.67,820.68 901.33,830.17 902.00,836.50 C902.67,842.83 903.33,848.23 904.00,852.00 C904.70,855.95 905.40,859.99 906.10,861.30 C907.27,863.49 908.43,865.11 909.60,865.20 C911.40,865.34 913.20,865.40 915.00,865.40 C934.67,865.40 954.33,865.40 974.00,865.40" stroke="#06a81a" stroke-width="2.2" fill="none" stroke-linejoin="round" stroke-linecap="round"/>
<text transform="translate(643.10,597.00)" font-size="30.50" fill="#009040" stroke="#009040" stroke-width="0.25" xml:space="preserve">Math1</text>
<text transform="translate(729.56,587.54)" font-size="17.30" fill="#009040" stroke="#009040" stroke-width="0.35" xml:space="preserve">fl/fl</text>
<text transform="translate(643.10,628.90)" font-size="30.50" fill="#ee0000" stroke="#ee0000" stroke-width="0.25" xml:space="preserve">Math1</text>
<text transform="translate(729.56,618.94)" font-size="17.30" fill="#ee0000" stroke="#ee0000" stroke-width="0.35" xml:space="preserve">fl/fl</text>
<text transform="translate(645.41,655.90) scale(0.9997,1)" font-size="30.50" fill="#ee0000" stroke="#ee0000" stroke-width="0.25" xml:space="preserve">vil-Cre-ER</text>
<text transform="translate(785.62,644.28)" font-size="17.30" fill="#ee0000" stroke="#ee0000" stroke-width="0.35" xml:space="preserve">T2</text>
<text transform="translate(617.20,760.10) rotate(-90)" font-size="30.50" fill="#000" stroke="#000" stroke-width="0.25" xml:space="preserve">% of Max</text>
<line x1="691.40" y1="881.60" x2="936.80" y2="881.60" stroke="#000" stroke-width="1.3"/>
<path d="M945.80,881.60 L934.40,875.90 L937.40,881.60 L934.40,887.30 Z" fill="#111"/>
<text transform="translate(772.64,911.00)" font-size="30.50" fill="#000" stroke="#000" stroke-width="0.25" xml:space="preserve">CFSE</text>
<line x1="1143.80" y1="548.70" x2="1143.80" y2="872.40" stroke="#000" stroke-width="2.0"/>
<line x1="1134.00" y1="549.50" x2="1143.80" y2="549.50" stroke="#000" stroke-width="1.8"/>
<line x1="1134.00" y1="614.30" x2="1143.80" y2="614.30" stroke="#000" stroke-width="1.8"/>
<line x1="1134.00" y1="678.60" x2="1143.80" y2="678.60" stroke="#000" stroke-width="1.8"/>
<line x1="1134.00" y1="742.90" x2="1143.80" y2="742.90" stroke="#000" stroke-width="1.8"/>
<line x1="1134.00" y1="807.30" x2="1143.80" y2="807.30" stroke="#000" stroke-width="1.8"/>
<line x1="1134.00" y1="871.60" x2="1314.70" y2="871.60" stroke="#000" stroke-width="1.8"/>
<text transform="translate(1075.32,558.79)" font-size="27.00" fill="#000" stroke="#000" stroke-width="0.25" xml:space="preserve">100</text>
<text transform="translate(1090.33,622.89)" font-size="27.00" fill="#000" stroke="#000" stroke-width="0.25" xml:space="preserve">80</text>
<text transform="translate(1090.33,687.49)" font-size="27.00" fill="#000" stroke="#000" stroke-width="0.25" xml:space="preserve">60</text>
<text transform="translate(1090.33,751.89)" font-size="27.00" fill="#000" stroke="#000" stroke-width="0.25" xml:space="preserve">40</text>
<text transform="translate(1090.33,816.19)" font-size="27.00" fill="#000" stroke="#000" stroke-width="0.25" xml:space="preserve">20</text>
<text transform="translate(1105.34,880.49)" font-size="27.00" fill="#000" stroke="#000" stroke-width="0.25" xml:space="preserve">0</text>
<text transform="translate(1047.80,842.88) rotate(-90) scale(1.0006,1)" font-size="30.00" fill="#000" stroke="#000" stroke-width="0.25" xml:space="preserve">%OTII cells divided</text>
<line x1="1203.20" y1="637.90" x2="1265.10" y2="637.90" stroke="#000" stroke-width="1.7"/>
<text transform="translate(1228.59,640.70) scale(1.1200,1)" font-size="34.92" fill="#000" stroke="#000" stroke-width="0.5" xml:space="preserve">*</text>
<line x1="1192.10" y1="700.00" x2="1192.10" y2="715.30" stroke="#000" stroke-width="1.7"/>
<line x1="1180.10" y1="700.00" x2="1204.10" y2="700.00" stroke="#000" stroke-width="1.7"/>
<line x1="1180.10" y1="715.30" x2="1204.10" y2="715.30" stroke="#000" stroke-width="1.7"/>
<line x1="1167.85" y1="707.60" x2="1216.35" y2="707.60" stroke="#000" stroke-width="1.7"/>
<circle cx="1191.90" cy="681.00" r="6.3" fill="#00ff00" stroke="#111" stroke-width="1.5"/>
<circle cx="1181.90" cy="694.00" r="6.3" fill="#00ff00" stroke="#111" stroke-width="1.5"/>
<circle cx="1202.10" cy="699.30" r="6.3" fill="#00ff00" stroke="#111" stroke-width="1.5"/>
<circle cx="1186.10" cy="704.60" r="6.3" fill="#00ff00" stroke="#111" stroke-width="1.5"/>
<circle cx="1198.10" cy="711.70" r="6.3" fill="#00ff00" stroke="#111" stroke-width="1.5"/>
<circle cx="1202.10" cy="727.90" r="6.3" fill="#00ff00" stroke="#111" stroke-width="1.5"/>
<circle cx="1181.90" cy="736.70" r="6.3" fill="#00ff00" stroke="#111" stroke-width="1.5"/>
<line x1="1264.60" y1="779.60" x2="1264.60" y2="794.70" stroke="#000" stroke-width="1.7"/>
<line x1="1252.85" y1="779.60" x2="1276.35" y2="779.60" stroke="#000" stroke-width="1.7"/>
<line x1="1252.85" y1="794.70" x2="1276.35" y2="794.70" stroke="#000" stroke-width="1.7"/>
<line x1="1240.60" y1="787.10" x2="1288.60" y2="787.10" stroke="#000" stroke-width="1.7"/>
<circle cx="1264.30" cy="753.30" r="6.3" fill="#ff0000" stroke="#111" stroke-width="1.5"/>
<circle cx="1250.30" cy="761.40" r="6.3" fill="#ff0000" stroke="#111" stroke-width="1.5"/>
<circle cx="1278.90" cy="762.10" r="6.3" fill="#ff0000" stroke="#111" stroke-width="1.5"/>
<circle cx="1264.30" cy="774.30" r="6.3" fill="#ff0000" stroke="#111" stroke-width="1.5"/>
<circle cx="1278.60" cy="786.90" r="6.3" fill="#ff0000" stroke="#111" stroke-width="1.5"/>
<circle cx="1243.30" cy="795.70" r="6.3" fill="#ff0000" stroke="#111" stroke-width="1.5"/>
<circle cx="1264.30" cy="797.10" r="6.3" fill="#ff0000" stroke="#111" stroke-width="1.5"/>
<circle cx="1250.40" cy="803.60" r="6.3" fill="#ff0000" stroke="#111" stroke-width="1.5"/>
<circle cx="1278.90" cy="816.00" r="6.3" fill="#ff0000" stroke="#111" stroke-width="1.5"/>
<circle cx="1264.30" cy="821.90" r="6.3" fill="#ff0000" stroke="#111" stroke-width="1.5"/>
<circle cx="1267.60" cy="548.80" r="6.4" fill="#00ff00" stroke="#111" stroke-width="1.4"/>
<circle cx="1267.60" cy="586.30" r="6.4" fill="#ff2a00" stroke="#111" stroke-width="1.4"/>
<text transform="translate(1286.60,559.50)" font-size="30.50" fill="#000" stroke="#000" stroke-width="0.25" xml:space="preserve">Math1</text>
<text transform="translate(1373.66,550.94)" font-size="17.30" fill="#000" stroke="#000" stroke-width="0.35" xml:space="preserve">fl/fl</text>
<text transform="translate(1286.60,599.30)" font-size="30.50" fill="#000" stroke="#000" stroke-width="0.25" xml:space="preserve">Math1</text>
<text transform="translate(1373.66,590.74)" font-size="17.30" fill="#000" stroke="#000" stroke-width="0.35" xml:space="preserve">fl/fl</text>
<text transform="translate(1288.61,630.00) scale(1.0055,1)" font-size="30.50" fill="#000" stroke="#000" stroke-width="0.25" xml:space="preserve">vil-Cre-ER</text>
<text transform="translate(1429.72,619.08)" font-size="17.30" fill="#000" stroke="#000" stroke-width="0.35" xml:space="preserve">T2</text>
<text transform="translate(0.42,998.60)" font-size="40.00" font-weight="bold" fill="#000" stroke="#000" stroke-width="0.25" xml:space="preserve">f</text>
<line x1="133.90" y1="1004.20" x2="133.90" y2="1322.20" stroke="#000" stroke-width="2.0"/>
<line x1="125.30" y1="1005.00" x2="133.90" y2="1005.00" stroke="#000" stroke-width="1.8"/>
<line x1="125.30" y1="1110.40" x2="133.90" y2="1110.40" stroke="#000" stroke-width="1.8"/>
<line x1="125.30" y1="1216.20" x2="133.90" y2="1216.20" stroke="#000" stroke-width="1.8"/>
<line x1="125.30" y1="1321.60" x2="484.40" y2="1321.60" stroke="#000" stroke-width="1.8"/>
<text transform="translate(78.37,1012.79)" font-size="30.50" fill="#000" stroke="#000" stroke-width="0.25" xml:space="preserve">30</text>
<text transform="translate(78.37,1120.49)" font-size="30.50" fill="#000" stroke="#000" stroke-width="0.25" xml:space="preserve">20</text>
<text transform="translate(78.77,1223.99)" font-size="30.50" fill="#000" stroke="#000" stroke-width="0.25" xml:space="preserve">10</text>
<text transform="translate(91.13,1333.49)" font-size="30.50" fill="#000" stroke="#000" stroke-width="0.25" xml:space="preserve">0</text>
<text transform="translate(53.70,1292.41) rotate(-90) scale(1.0270,1)" font-size="30.00" fill="#000" stroke="#000" stroke-width="0.25" xml:space="preserve">% Ova-647+ cells</text>
<line x1="177.40" y1="1100.40" x2="177.40" y2="1172.90" stroke="#000" stroke-width="1.7"/>
<line x1="166.70" y1="1100.40" x2="188.10" y2="1100.40" stroke="#000" stroke-width="1.7"/>
<line x1="166.70" y1="1172.90" x2="188.10" y2="1172.90" stroke="#000" stroke-width="1.7"/>
<line x1="155.70" y1="1136.70" x2="199.10" y2="1136.70" stroke="#000" stroke-width="1.7"/>
<ellipse cx="186.70" cy="1130.70" rx="6.3" ry="6.55" fill="#00ff00" stroke="#111" stroke-width="1.5"/>
<ellipse cx="168.10" cy="1149.60" rx="6.3" ry="6.55" fill="#00ff00" stroke="#111" stroke-width="1.5"/>
<ellipse cx="168.10" cy="1178.30" rx="6.3" ry="6.55" fill="#00ff00" stroke="#111" stroke-width="1.5"/>
<ellipse cx="186.70" cy="1182.60" rx="6.3" ry="6.55" fill="#00ff00" stroke="#111" stroke-width="1.5"/>
<ellipse cx="177.10" cy="1211.90" rx="6.3" ry="6.55" fill="#00ff00" stroke="#111" stroke-width="1.5"/>
<line x1="220.80" y1="1219.10" x2="220.80" y2="1262.60" stroke="#000" stroke-width="1.7"/>
<line x1="210.10" y1="1219.10" x2="231.50" y2="1219.10" stroke="#000" stroke-width="1.7"/>
<line x1="210.10" y1="1262.60" x2="231.50" y2="1262.60" stroke="#000" stroke-width="1.7"/>
<line x1="199.10" y1="1240.90" x2="242.50" y2="1240.90" stroke="#000" stroke-width="1.7"/>
<ellipse cx="208.10" cy="1166.90" rx="6.3" ry="6.55" fill="#ff0000" stroke="#111" stroke-width="1.5"/>
<ellipse cx="233.60" cy="1164.30" rx="6.3" ry="6.55" fill="#ff0000" stroke="#111" stroke-width="1.5"/>
<ellipse cx="220.70" cy="1181.40" rx="6.3" ry="6.55" fill="#ff0000" stroke="#111" stroke-width="1.5"/>
<ellipse cx="220.80" cy="1248.10" rx="6.3" ry="6.55" fill="#ff0000" stroke="#111" stroke-width="1.5"/>
<ellipse cx="220.80" cy="1268.60" rx="6.3" ry="6.55" fill="#ff0000" stroke="#111" stroke-width="1.5"/>
<ellipse cx="208.00" cy="1292.20" rx="6.3" ry="6.55" fill="#ff0000" stroke="#111" stroke-width="1.5"/>
<ellipse cx="233.60" cy="1298.40" rx="6.3" ry="6.55" fill="#ff0000" stroke="#111" stroke-width="1.5"/>
<ellipse cx="220.80" cy="1307.00" rx="6.3" ry="6.55" fill="#ff0000" stroke="#111" stroke-width="1.5"/>
<line x1="286.20" y1="1071.70" x2="286.20" y2="1126.00" stroke="#000" stroke-width="1.7"/>
<line x1="275.50" y1="1071.70" x2="296.90" y2="1071.70" stroke="#000" stroke-width="1.7"/>
<line x1="275.50" y1="1126.00" x2="296.90" y2="1126.00" stroke="#000" stroke-width="1.7"/>
<line x1="264.50" y1="1098.60" x2="307.90" y2="1098.60" stroke="#000" stroke-width="1.7"/>
<ellipse cx="286.20" cy="1100.00" rx="6.3" ry="6.55" fill="#00ff00" stroke="#111" stroke-width="1.5"/>
<ellipse cx="299.00" cy="1105.70" rx="6.3" ry="6.55" fill="#00ff00" stroke="#111" stroke-width="1.5"/>
<ellipse cx="273.50" cy="1109.70" rx="6.3" ry="6.55" fill="#00ff00" stroke="#111" stroke-width="1.5"/>
<ellipse cx="286.20" cy="1123.30" rx="6.3" ry="6.55" fill="#00ff00" stroke="#111" stroke-width="1.5"/>
<ellipse cx="286.20" cy="1178.10" rx="6.3" ry="6.55" fill="#00ff00" stroke="#111" stroke-width="1.5"/>
<line x1="329.80" y1="1197.90" x2="329.80" y2="1254.10" stroke="#000" stroke-width="1.7"/>
<line x1="319.10" y1="1197.90" x2="340.50" y2="1197.90" stroke="#000" stroke-width="1.7"/>
<line x1="319.10" y1="1254.10" x2="340.50" y2="1254.10" stroke="#000" stroke-width="1.7"/>
<line x1="308.10" y1="1226.00" x2="351.50" y2="1226.00" stroke="#000" stroke-width="1.7"/>
<ellipse cx="320.40" cy="1093.10" rx="6.3" ry="6.55" fill="#ff0000" stroke="#111" stroke-width="1.5"/>
<ellipse cx="338.40" cy="1112.10" rx="6.3" ry="6.55" fill="#ff0000" stroke="#111" stroke-width="1.5"/>
<ellipse cx="316.60" cy="1245.30" rx="6.3" ry="6.55" fill="#ff0000" stroke="#111" stroke-width="1.5"/>
<ellipse cx="329.60" cy="1246.90" rx="6.3" ry="6.55" fill="#ff0000" stroke="#111" stroke-width="1.5"/>
<ellipse cx="339.10" cy="1245.50" rx="6.3" ry="6.55" fill="#ff0000" stroke="#111" stroke-width="1.5"/>
<ellipse cx="329.90" cy="1274.70" rx="6.3" ry="6.55" fill="#ff0000" stroke="#111" stroke-width="1.5"/>
<ellipse cx="320.40" cy="1297.20" rx="6.3" ry="6.55" fill="#ff0000" stroke="#111" stroke-width="1.5"/>
<ellipse cx="338.40" cy="1293.20" rx="6.3" ry="6.55" fill="#ff0000" stroke="#111" stroke-width="1.5"/>
<line x1="395.00" y1="1221.40" x2="395.00" y2="1263.60" stroke="#000" stroke-width="1.7"/>
<line x1="384.30" y1="1221.40" x2="405.70" y2="1221.40" stroke="#000" stroke-width="1.7"/>
<line x1="384.30" y1="1263.60" x2="405.70" y2="1263.60" stroke="#000" stroke-width="1.7"/>
<line x1="373.30" y1="1242.40" x2="416.70" y2="1242.40" stroke="#000" stroke-width="1.7"/>
<ellipse cx="395.00" cy="1165.40" rx="6.3" ry="6.55" fill="#00ff00" stroke="#111" stroke-width="1.5"/>
<ellipse cx="404.30" cy="1209.00" rx="6.3" ry="6.55" fill="#00ff00" stroke="#111" stroke-width="1.5"/>
<ellipse cx="385.70" cy="1223.60" rx="6.3" ry="6.55" fill="#00ff00" stroke="#111" stroke-width="1.5"/>
<ellipse cx="385.70" cy="1272.10" rx="6.3" ry="6.55" fill="#00ff00" stroke="#111" stroke-width="1.5"/>
<ellipse cx="404.30" cy="1278.30" rx="6.3" ry="6.55" fill="#00ff00" stroke="#111" stroke-width="1.5"/>
<ellipse cx="395.00" cy="1306.00" rx="6.3" ry="6.55" fill="#00ff00" stroke="#111" stroke-width="1.5"/>
<line x1="438.80" y1="1309.50" x2="438.80" y2="1316.50" stroke="#000" stroke-width="1.7"/>
<line x1="434.80" y1="1309.50" x2="442.80" y2="1309.50" stroke="#000" stroke-width="1.7"/>
<line x1="434.80" y1="1316.50" x2="442.80" y2="1316.50" stroke="#000" stroke-width="1.7"/>
<line x1="417.30" y1="1312.60" x2="460.30" y2="1312.60" stroke="#000" stroke-width="1.7"/>
<ellipse cx="428.50" cy="1315.50" rx="6.3" ry="6.55" fill="#ff0000" stroke="#111" stroke-width="1.5"/>
<ellipse cx="431.80" cy="1320.20" rx="6.3" ry="6.55" fill="#ff0000" stroke="#111" stroke-width="1.5"/>
<ellipse cx="435.00" cy="1321.50" rx="6.3" ry="6.55" fill="#ff0000" stroke="#111" stroke-width="1.5"/>
<ellipse cx="442.90" cy="1321.00" rx="6.3" ry="6.55" fill="#ff0000" stroke="#111" stroke-width="1.5"/>
<ellipse cx="451.80" cy="1308.00" rx="6.3" ry="6.55" fill="#ff0000" stroke="#111" stroke-width="1.5"/>
<ellipse cx="446.70" cy="1312.30" rx="6.3" ry="6.55" fill="#ff0000" stroke="#111" stroke-width="1.5"/>
<ellipse cx="426.00" cy="1306.90" rx="6.3" ry="6.55" fill="#ff0000" stroke="#111" stroke-width="1.5"/>
<ellipse cx="438.70" cy="1299.70" rx="6.3" ry="6.55" fill="#ff0000" stroke="#111" stroke-width="1.5"/>
<line x1="165.00" y1="1085.40" x2="234.60" y2="1085.40" stroke="#000" stroke-width="1.7"/>
<text transform="translate(193.64,1084.13) scale(1.1200,1)" font-size="22.31" fill="#000" stroke="#000" stroke-width="0.5" xml:space="preserve">*</text>
<line x1="286.00" y1="1059.70" x2="355.70" y2="1059.70" stroke="#000" stroke-width="1.7"/>
<text transform="translate(305.84,1059.63) scale(1.1200,1)" font-size="22.31" fill="#000" stroke="#000" stroke-width="0.5" xml:space="preserve">*</text>
<line x1="393.10" y1="1143.10" x2="462.60" y2="1143.10" stroke="#000" stroke-width="1.7"/>
<text transform="translate(421.23,1138.13) scale(1.1200,1)" font-size="23.28" fill="#000" stroke="#000" stroke-width="0.5" xml:space="preserve">*</text>
<line x1="157.50" y1="1330.70" x2="245.30" y2="1330.70" stroke="#000" stroke-width="1.6"/>
<line x1="283.30" y1="1330.90" x2="370.80" y2="1330.90" stroke="#000" stroke-width="1.6"/>
<line x1="410.20" y1="1330.90" x2="497.50" y2="1330.90" stroke="#000" stroke-width="1.6"/>
<text transform="translate(150.91,1360.70) scale(1.0200,1)" font-size="30.50" fill="#000" stroke="#000" stroke-width="0.25" xml:space="preserve">CD103</text>
<text transform="translate(247.35,1350.68)" font-size="17.30" fill="#000" stroke="#000" stroke-width="0.35" xml:space="preserve">+</text>
<text transform="translate(150.91,1397.40) scale(1.0200,1)" font-size="30.50" fill="#000" stroke="#000" stroke-width="0.25" xml:space="preserve">CD11b</text>
<text transform="translate(245.75,1387.38)" font-size="17.30" fill="#000" stroke="#000" stroke-width="0.35" xml:space="preserve">+</text>
<text transform="translate(276.01,1360.60) scale(1.0200,1)" font-size="30.50" fill="#000" stroke="#000" stroke-width="0.25" xml:space="preserve">CD103</text>
<text transform="translate(371.95,1351.55)" font-size="17.30" fill="#000" stroke="#000" stroke-width="0.35" xml:space="preserve">−</text>
<text transform="translate(276.01,1396.90) scale(1.0200,1)" font-size="30.50" fill="#000" stroke="#000" stroke-width="0.25" xml:space="preserve">CD11b</text>
<text transform="translate(370.65,1386.98)" font-size="17.30" fill="#000" stroke="#000" stroke-width="0.35" xml:space="preserve">+</text>
<text transform="translate(400.51,1360.60) scale(1.0200,1)" font-size="30.50" fill="#000" stroke="#000" stroke-width="0.25" xml:space="preserve">CD103</text>
<text transform="translate(496.65,1350.68)" font-size="17.30" fill="#000" stroke="#000" stroke-width="0.35" xml:space="preserve">+</text>
<text transform="translate(400.51,1396.90) scale(1.0200,1)" font-size="30.50" fill="#000" stroke="#000" stroke-width="0.25" xml:space="preserve">CD11b</text>
<text transform="translate(493.35,1387.85)" font-size="17.30" fill="#000" stroke="#000" stroke-width="0.35" xml:space="preserve">−</text>
<circle cx="370.70" cy="994.10" r="6.2" fill="#00ff00" stroke="#111" stroke-width="1.4"/>
<circle cx="370.70" cy="1033.40" r="6.2" fill="#ff0000" stroke="#111" stroke-width="1.4"/>
<text transform="translate(383.60,1004.50)" font-size="30.50" fill="#000" stroke="#000" stroke-width="0.25" xml:space="preserve">Math1</text>
<text transform="translate(470.76,994.94)" font-size="17.30" fill="#000" stroke="#000" stroke-width="0.35" xml:space="preserve">fl/fl</text>
<text transform="translate(383.60,1044.40)" font-size="30.50" fill="#000" stroke="#000" stroke-width="0.25" xml:space="preserve">Math1</text>
<text transform="translate(470.76,1034.84)" font-size="17.30" fill="#000" stroke="#000" stroke-width="0.35" xml:space="preserve">fl/fl</text>
<text transform="translate(386.01,1079.80) scale(0.9990,1)" font-size="30.50" fill="#000" stroke="#000" stroke-width="0.25" xml:space="preserve">vil-Cre-ER</text>
<text transform="translate(526.62,1068.58)" font-size="17.30" fill="#000" stroke="#000" stroke-width="0.35" xml:space="preserve">T2</text>
<text transform="translate(594.06,998.00)" font-size="40.00" font-weight="bold" fill="#000" stroke="#000" stroke-width="0.25" xml:space="preserve">g</text>
<text transform="translate(672.84,1021.90)" font-size="30.50" fill="#000" stroke="#000" stroke-width="0.25" xml:space="preserve">Caudal lymph node</text>
<rect x="637.3" y="1038.6" width="340.2" height="306.7" fill="none" stroke="#000" stroke-width="2"/>
<path d="M673.90,1342.80 C675.97,1342.60 678.03,1342.52 680.10,1342.20 C682.20,1341.87 684.30,1340.71 686.40,1339.70 C688.50,1338.69 690.60,1335.90 692.70,1335.90 C694.37,1335.90 696.03,1335.90 697.70,1335.90 C699.37,1335.90 701.03,1337.27 702.70,1338.00 C703.93,1338.54 705.17,1339.70 706.40,1339.70 C708.10,1339.70 709.80,1338.53 711.50,1337.80 C713.57,1336.91 715.63,1335.27 717.70,1334.60 C719.37,1334.06 721.03,1334.06 722.70,1333.40 C724.37,1332.74 726.03,1329.84 727.70,1327.70 C729.40,1325.52 731.10,1320.20 732.80,1320.20 C734.47,1320.20 736.13,1320.29 737.80,1320.50 C738.43,1320.58 739.07,1322.10 739.70,1322.10 C741.57,1322.10 743.43,1315.37 745.30,1314.00 C746.53,1313.09 747.77,1313.01 749.00,1312.10 C750.27,1311.17 751.53,1307.10 752.80,1307.10 C754.47,1307.10 756.13,1310.80 757.80,1310.80 C759.70,1310.80 761.60,1308.52 763.50,1306.40 C764.83,1304.91 766.17,1301.24 767.50,1299.00 C768.87,1296.70 770.23,1292.70 771.60,1292.70 C772.87,1292.70 774.13,1294.60 775.40,1296.40 C777.07,1298.77 778.73,1310.80 780.40,1310.80 C781.77,1310.80 783.13,1301.88 784.50,1298.00 C786.07,1293.55 787.63,1285.80 789.20,1285.80 C790.87,1285.80 792.53,1286.93 794.20,1288.30 C795.47,1289.34 796.73,1293.58 798.00,1296.00 C799.23,1298.36 800.47,1302.70 801.70,1302.70 C803.13,1302.70 804.57,1295.12 806.00,1290.00 C807.33,1285.23 808.67,1275.49 810.00,1272.00 C811.00,1269.38 812.00,1266.30 813.00,1266.30 C814.00,1266.30 815.00,1274.58 816.00,1280.00 C817.00,1285.42 818.00,1295.82 819.00,1300.00 C819.90,1303.76 820.80,1308.30 821.70,1308.30 C822.97,1308.30 824.23,1306.19 825.50,1303.90 C826.67,1301.79 827.83,1293.18 829.00,1290.00 C830.40,1286.18 831.80,1281.40 833.20,1281.40 C834.30,1281.40 835.40,1287.38 836.50,1292.00 C837.50,1296.20 838.50,1306.40 839.50,1310.00 C840.50,1313.60 841.50,1317.70 842.50,1317.70 C843.67,1317.70 844.83,1313.39 846.00,1310.00 C847.17,1306.61 848.33,1298.83 849.50,1295.00 C850.47,1291.83 851.43,1287.20 852.40,1287.20 C853.43,1287.20 854.47,1291.67 855.50,1295.00 C856.67,1298.76 857.83,1307.67 859.00,1311.00 C860.07,1314.05 861.13,1317.70 862.20,1317.70 C863.13,1317.70 864.07,1314.63 865.00,1312.00 C866.00,1309.18 867.00,1302.83 868.00,1298.00 C868.83,1293.97 869.67,1288.67 870.50,1285.50 C871.67,1281.06 872.83,1278.68 874.00,1275.00 C875.23,1271.11 876.47,1267.91 877.70,1262.70 C878.63,1258.76 879.57,1252.92 880.50,1247.00 C881.50,1240.65 882.50,1234.70 883.50,1225.00 C884.87,1211.74 886.23,1184.37 887.60,1163.00 C889.00,1141.11 890.40,1105.48 891.80,1095.00 C892.60,1089.01 893.40,1082.74 894.20,1082.60 C894.93,1082.47 895.67,1082.40 896.40,1082.40 C897.00,1082.40 897.60,1086.83 898.20,1092.00 C898.97,1098.61 899.73,1133.40 900.50,1152.00 C901.73,1181.93 902.97,1208.28 904.20,1235.00 C905.20,1256.67 906.20,1283.29 907.20,1298.00 C908.23,1313.20 909.27,1328.60 910.30,1333.00 C911.70,1338.97 913.10,1343.20 914.50,1343.60 C916.33,1344.13 918.17,1344.38 920.00,1344.40 C933.20,1344.57 946.40,1344.53 959.60,1344.60" stroke="#06a81a" stroke-width="2.2" fill="none" stroke-linejoin="round" stroke-linecap="round"/>
<path d="M655.00,1344.30 C663.37,1344.13 671.73,1344.18 680.10,1343.80 C682.20,1343.70 684.30,1341.50 686.40,1341.50 C690.37,1341.50 694.33,1341.50 698.30,1341.50 C698.93,1341.50 699.57,1343.40 700.20,1343.40 C703.53,1343.40 706.87,1343.40 710.20,1343.40 C711.80,1343.40 713.40,1344.50 715.00,1344.50 C716.33,1344.50 717.67,1343.40 719.00,1343.40 C727.77,1343.40 736.53,1344.00 745.30,1344.00 C749.47,1344.00 753.63,1342.23 757.80,1341.50 C760.30,1341.06 762.80,1340.30 765.30,1340.30 C769.07,1340.30 772.83,1340.30 776.60,1340.30 C778.70,1340.30 780.80,1339.32 782.90,1338.40 C784.57,1337.67 786.23,1334.86 787.90,1334.60 C790.40,1334.22 792.90,1334.24 795.40,1334.00 C797.07,1333.84 798.73,1333.72 800.40,1333.40 C802.93,1332.92 805.47,1330.37 808.00,1329.00 C809.23,1328.33 810.47,1327.10 811.70,1327.10 C812.97,1327.10 814.23,1327.39 815.50,1327.70 C816.90,1328.04 818.30,1330.10 819.70,1330.10 C821.63,1330.10 823.57,1325.21 825.50,1324.00 C826.33,1323.48 827.17,1322.80 828.00,1322.80 C830.07,1322.80 832.13,1327.40 834.20,1327.40 C836.63,1327.40 839.07,1327.40 841.50,1327.40 C842.83,1327.40 844.17,1320.52 845.50,1318.00 C846.90,1315.36 848.30,1311.40 849.70,1311.40 C851.10,1311.40 852.50,1311.40 853.90,1311.40 C855.10,1311.40 856.30,1314.29 857.50,1316.00 C858.70,1317.71 859.90,1321.80 861.10,1321.80 C862.07,1321.80 863.03,1320.26 864.00,1319.00 C864.77,1318.00 865.53,1316.66 866.30,1314.60 C867.20,1312.18 868.10,1306.65 869.00,1302.00 C869.83,1297.70 870.67,1291.46 871.50,1287.60 C873.57,1278.02 875.63,1275.14 877.70,1264.80 C879.43,1256.13 881.17,1243.14 882.90,1225.40 C884.27,1211.41 885.63,1184.75 887.00,1163.30 C888.40,1141.33 889.80,1106.22 891.20,1094.90 C891.90,1089.24 892.60,1082.80 893.30,1082.80 C893.97,1082.80 894.63,1084.53 895.30,1086.60 C896.70,1090.94 898.10,1128.07 899.50,1152.90 C900.87,1177.14 902.23,1208.28 903.60,1235.80 C904.63,1256.61 905.67,1283.01 906.70,1298.00 C907.73,1312.99 908.77,1328.86 909.80,1333.20 C911.20,1339.08 912.60,1343.23 914.00,1343.60 C916.00,1344.13 918.00,1344.37 920.00,1344.40 C933.20,1344.57 946.40,1344.53 959.60,1344.60" stroke="#ff0000" stroke-width="2.0" fill="none" stroke-linejoin="round" stroke-linecap="round"/>
<text transform="translate(659.40,1071.60)" font-size="30.50" fill="#20aa38" stroke="#20aa38" stroke-width="0.25" xml:space="preserve">Math1</text>
<text transform="translate(746.26,1062.54)" font-size="17.30" fill="#20aa38" stroke="#20aa38" stroke-width="0.35" xml:space="preserve">fl/fl</text>
<text transform="translate(659.40,1107.70)" font-size="30.50" fill="#ee0000" stroke="#ee0000" stroke-width="0.25" xml:space="preserve">Math1</text>
<text transform="translate(746.26,1097.64)" font-size="17.30" fill="#ee0000" stroke="#ee0000" stroke-width="0.35" xml:space="preserve">fl/fl</text>
<text transform="translate(661.11,1134.60) scale(1.0026,1)" font-size="30.50" fill="#ee0000" stroke="#ee0000" stroke-width="0.25" xml:space="preserve">vil-Cre-ER</text>
<text transform="translate(802.32,1123.78)" font-size="17.30" fill="#ee0000" stroke="#ee0000" stroke-width="0.35" xml:space="preserve">T2</text>
<text transform="translate(618.70,1243.12) rotate(-90) scale(1.0160,1)" font-size="30.50" fill="#000" stroke="#000" stroke-width="0.25" xml:space="preserve">% of Max</text>
<line x1="664.00" y1="1357.60" x2="922.60" y2="1357.60" stroke="#000" stroke-width="1.3"/>
<path d="M931.60,1357.60 L920.20,1351.90 L923.20,1357.60 L920.20,1363.30 Z" fill="#111"/>
<text transform="translate(768.34,1386.90)" font-size="30.50" fill="#000" stroke="#000" stroke-width="0.25" xml:space="preserve">CFSE</text>
<line x1="1145.40" y1="1021.60" x2="1145.40" y2="1357.10" stroke="#000" stroke-width="2.0"/>
<line x1="1135.30" y1="1022.40" x2="1145.40" y2="1022.40" stroke="#000" stroke-width="1.8"/>
<line x1="1135.30" y1="1089.70" x2="1145.40" y2="1089.70" stroke="#000" stroke-width="1.8"/>
<line x1="1135.30" y1="1156.50" x2="1145.40" y2="1156.50" stroke="#000" stroke-width="1.8"/>
<line x1="1135.30" y1="1222.70" x2="1145.40" y2="1222.70" stroke="#000" stroke-width="1.8"/>
<line x1="1135.30" y1="1289.50" x2="1145.40" y2="1289.50" stroke="#000" stroke-width="1.8"/>
<line x1="1135.30" y1="1356.30" x2="1333.50" y2="1356.30" stroke="#000" stroke-width="1.8"/>
<text transform="translate(1070.52,1031.39) scale(1.1000,1)" font-size="27.00" fill="#000" stroke="#000" stroke-width="0.25" xml:space="preserve">100</text>
<text transform="translate(1087.03,1099.09) scale(1.1000,1)" font-size="27.00" fill="#000" stroke="#000" stroke-width="0.25" xml:space="preserve">80</text>
<text transform="translate(1087.03,1166.09) scale(1.1000,1)" font-size="27.00" fill="#000" stroke="#000" stroke-width="0.25" xml:space="preserve">60</text>
<text transform="translate(1087.03,1232.29) scale(1.1000,1)" font-size="27.00" fill="#000" stroke="#000" stroke-width="0.25" xml:space="preserve">40</text>
<text transform="translate(1087.03,1299.79) scale(1.1000,1)" font-size="27.00" fill="#000" stroke="#000" stroke-width="0.25" xml:space="preserve">20</text>
<text transform="translate(1103.55,1365.69) scale(1.1000,1)" font-size="27.00" fill="#000" stroke="#000" stroke-width="0.25" xml:space="preserve">0</text>
<text transform="translate(1048.60,1324.08) rotate(-90) scale(0.9991,1)" font-size="30.00" fill="#000" stroke="#000" stroke-width="0.25" xml:space="preserve">%OTII cells divided</text>
<line x1="1198.30" y1="1110.00" x2="1198.30" y2="1166.00" stroke="#000" stroke-width="1.7"/>
<line x1="1185.15" y1="1110.00" x2="1211.45" y2="1110.00" stroke="#000" stroke-width="1.7"/>
<line x1="1185.15" y1="1166.00" x2="1211.45" y2="1166.00" stroke="#000" stroke-width="1.7"/>
<line x1="1171.65" y1="1137.90" x2="1224.95" y2="1137.90" stroke="#000" stroke-width="1.7"/>
<line x1="1278.10" y1="1192.90" x2="1278.10" y2="1230.70" stroke="#000" stroke-width="1.7"/>
<line x1="1265.05" y1="1192.90" x2="1291.15" y2="1192.90" stroke="#000" stroke-width="1.7"/>
<line x1="1265.05" y1="1230.70" x2="1291.15" y2="1230.70" stroke="#000" stroke-width="1.7"/>
<line x1="1251.45" y1="1211.70" x2="1304.75" y2="1211.70" stroke="#000" stroke-width="1.7"/>
<ellipse cx="1198.30" cy="1056.40" rx="7.3" ry="6.55" fill="#00ff00" stroke="#111" stroke-width="1.5"/>
<ellipse cx="1187.10" cy="1152.10" rx="7.3" ry="6.55" fill="#00ff00" stroke="#111" stroke-width="1.5"/>
<ellipse cx="1209.70" cy="1160.30" rx="7.3" ry="6.55" fill="#00ff00" stroke="#111" stroke-width="1.5"/>
<ellipse cx="1198.30" cy="1182.60" rx="7.3" ry="6.55" fill="#00ff00" stroke="#111" stroke-width="1.5"/>
<ellipse cx="1278.10" cy="1160.30" rx="7.3" ry="6.55" fill="#ff0000" stroke="#111" stroke-width="1.5"/>
<ellipse cx="1266.90" cy="1211.10" rx="7.3" ry="6.55" fill="#ff0000" stroke="#111" stroke-width="1.5"/>
<ellipse cx="1289.30" cy="1223.10" rx="7.3" ry="6.55" fill="#ff0000" stroke="#111" stroke-width="1.5"/>
<ellipse cx="1278.10" cy="1251.00" rx="7.3" ry="6.55" fill="#ff0000" stroke="#111" stroke-width="1.5"/>
<line x1="1206.00" y1="1030.30" x2="1267.60" y2="1030.30" stroke="#000" stroke-width="1.7"/>
<text transform="translate(1231.09,1033.90) scale(1.1200,1)" font-size="34.92" fill="#000" stroke="#000" stroke-width="0.5" xml:space="preserve">*</text>
<circle cx="1311.30" cy="1011.20" r="6.4" fill="#00ff00" stroke="#111" stroke-width="1.4"/>
<circle cx="1311.30" cy="1048.60" r="6.4" fill="#ff2a00" stroke="#111" stroke-width="1.4"/>
<text transform="translate(1328.60,1021.60)" font-size="30.50" fill="#000" stroke="#000" stroke-width="0.25" xml:space="preserve">Math1</text>
<text transform="translate(1415.46,1011.44)" font-size="17.30" fill="#000" stroke="#000" stroke-width="0.35" xml:space="preserve">fl/fl</text>
<text transform="translate(1328.60,1061.40)" font-size="30.50" fill="#000" stroke="#000" stroke-width="0.25" xml:space="preserve">Math1</text>
<text transform="translate(1415.46,1051.44)" font-size="17.30" fill="#000" stroke="#000" stroke-width="0.35" xml:space="preserve">fl/fl</text>
<text transform="translate(1330.51,1093.00) scale(0.9990,1)" font-size="30.50" fill="#000" stroke="#000" stroke-width="0.25" xml:space="preserve">vil-Cre-ER</text>
<text transform="translate(1471.12,1082.08)" font-size="17.30" fill="#000" stroke="#000" stroke-width="0.35" xml:space="preserve">T2</text>
<rect x="586.3" y="416.8" width="1.2" height="1.9" fill="#cccccc"/>
</svg>
</body></html>
